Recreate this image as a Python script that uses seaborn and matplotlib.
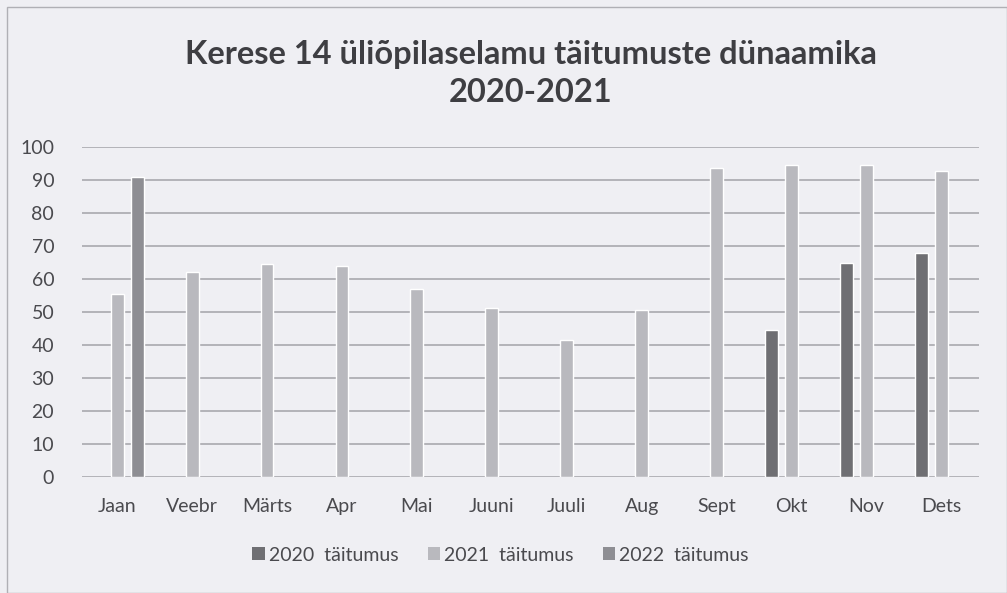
import numpy as np
import pandas as pd
import matplotlib
matplotlib.use("Agg")
import matplotlib.pyplot as plt
import seaborn as sns
from matplotlib.patches import Patch, Rectangle

months = ["Jaan", "Veebr", "Märts", "Apr", "Mai", "Juuni", "Juuli", "Aug", "Sept", "Okt", "Nov", "Dets"]
series_names = ["2020  täitumus", "2021  täitumus", "2022  täitumus"]
v2020 = [np.nan] * 9 + [44.7, 64.9, 67.9]
v2021 = [55.5, 62.2, 64.5, 64.0, 57.0, 51.1, 41.5, 50.5, 93.8, 94.6, 94.6, 92.7]
v2022 = [90.8] + [np.nan] * 11
title = "Kerese 14 üliõpilaselamu täitumuste dünaamika\n2020-2021"

colors = ["#6f6f73", "#b9b9be", "#8e8e93"]

df = pd.DataFrame({
    "month": months * 3,
    "series": [series_names[0]] * 12 + [series_names[1]] * 12 + [series_names[2]] * 12,
    "value": v2020 + v2021 + v2022,
})

sns.set_theme(style="white")
plt.rcParams["font.family"] = ["Lato", "DejaVu Sans"]

bg = "#efeff3"
fig = plt.figure(figsize=(10.07, 5.93), dpi=100, facecolor=bg)
ax = fig.add_axes([0.0814, 0.1956, 0.8906, 0.5564], facecolor=bg)

sns.barplot(data=df, x="month", y="value", hue="series", order=months,
            hue_order=series_names, palette=colors, errorbar=None,
            width=0.8, gap=0.36, ax=ax, legend=False, saturation=1)

ax.set_ylim(0, 100)
ax.set_xlim(-0.47, 11.5)
ax.set_yticks(np.arange(0, 101, 10))
ax.yaxis.grid(True, color="#a3a3a8", linewidth=1.1)
ax.set_axisbelow(True)
for s in ax.spines.values():
    s.set_visible(False)
ax.tick_params(axis="both", length=0, labelsize=14, labelcolor="#4a4a4e")
ax.tick_params(axis="x", pad=15)
ax.tick_params(axis="y", pad=20)
ax.set_xlabel("")
ax.set_ylabel("")

fig.text(0.527, 0.876, title, ha="center", va="center", fontsize=23.5,
         fontweight="bold", color="#3e3e42", linespacing=1.4)

handles = [Patch(facecolor=c, edgecolor="none") for c in colors]
fig.legend(handles, series_names, loc="center", bbox_to_anchor=(0.497, 0.064),
           ncol=3, frameon=False, fontsize=14, labelcolor="#4a4a4e",
           handlelength=0.65, handleheight=0.65, handletextpad=0.2, columnspacing=1.5)

fig.patches.append(Rectangle((0.007, 0.0), 0.993, 0.988, transform=fig.transFigure,
                             fill=False, edgecolor="#b0b0b5", linewidth=1))

fig.savefig("out.png", dpi=100, facecolor=bg)
